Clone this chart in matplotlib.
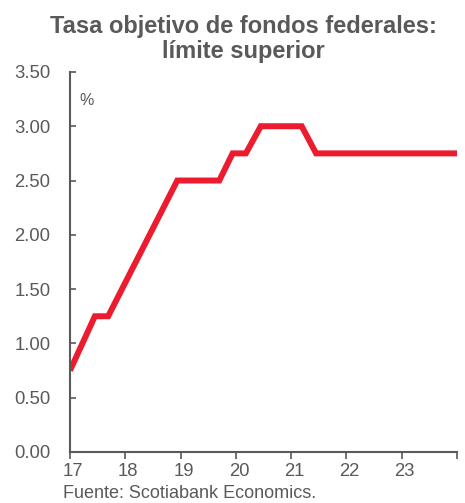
import matplotlib
matplotlib.use("Agg")
import matplotlib.pyplot as plt
import matplotlib.transforms as mtransforms

plt.rcParams['font.family'] = ['Liberation Sans', 'DejaVu Sans']

# Data (year fraction, upper bound %)
x_years = [17.0, 17.45, 17.69, 18.94, 19.70, 19.94, 20.18, 20.45, 21.19, 21.45, 24.0]
rate = [0.75, 1.25, 1.25, 2.50, 2.50, 2.75, 2.75, 3.00, 3.00, 2.75, 2.75]
x_ticks = [17, 18, 19, 20, 21, 22, 23, 24]
x_labels = ['17', '18', '19', '20', '21', '22', '23', '']
y_ticks = [0.0, 0.5, 1.0, 1.5, 2.0, 2.5, 3.0, 3.5]

grey = '#595959'
red = '#EC1C2E'

fig = plt.figure(figsize=(4.65, 5.03), dpi=100)
ax = fig.add_axes([0.1505, 0.1014, 0.8325, 0.7556])

ax.plot(x_years, rate, color=red, lw=4.3, solid_joinstyle='miter', solid_capstyle='butt')

ax.set_xlim(17, 24)
ax.set_ylim(0, 3.5)
ax.set_xticks(x_ticks)
ax.set_xticklabels(x_labels)
ax.set_yticks(y_ticks)
ax.set_yticklabels([f'{v:.2f}' for v in y_ticks])

for s in ['top', 'right']:
    ax.spines[s].set_visible(False)
for s in ['left', 'bottom']:
    ax.spines[s].set_color(grey)
    ax.spines[s].set_linewidth(1.5)

ax.tick_params(axis='y', direction='in', length=4, width=1.2, color=grey,
               labelcolor=grey, labelsize=13.3, pad=14)
ax.tick_params(axis='x', direction='out', length=5, width=1.2, color=grey,
               labelcolor=grey, labelsize=13.3, pad=3)
offset = mtransforms.ScaledTranslation(3/100, 0, fig.dpi_scale_trans)
for lbl in ax.get_xticklabels():
    lbl.set_transform(lbl.get_transform() + offset)

ax.text(0.025, 0.925, '%', transform=ax.transAxes, color=grey, fontsize=11.5,
        ha='left', va='center')

fig.text(0.524, 0.97, 'Tasa objetivo de fondos federales:\nlímite superior',
         ha='center', va='top', fontsize=17, fontweight='bold', color=grey,
         linespacing=1.12)

fig.text(0.135, 0.018, 'Fuente: Scotiabank Economics.', ha='left', va='center',
         fontsize=13, color=grey)

fig.savefig('out.png', dpi=100)
